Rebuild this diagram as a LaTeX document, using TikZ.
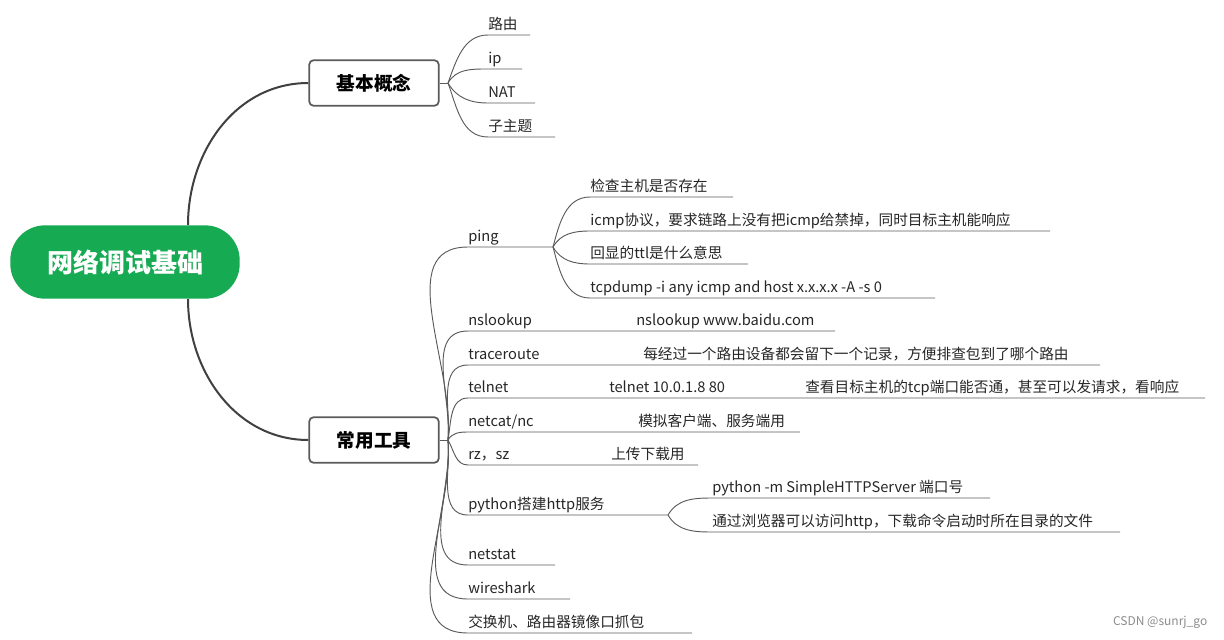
\documentclass[tikz,border=0pt]{standalone}
\usepackage{fontspec}
\setmainfont{Noto Sans CJK SC}
\usetikzlibrary{positioning}
\definecolor{rootgreen}{RGB}{22,170,82}
\definecolor{linegray}{RGB}{90,90,90}

\begin{document}
\begin{tikzpicture}[x=0.75pt, y=-0.75pt, font=\fontsize{11}{13}\selectfont,
    root/.style={rectangle, rounded corners=26pt, fill=rootgreen, text=white, font=\fontsize{19.5}{22}\selectfont\bfseries, minimum width=172pt, minimum height=55pt},
    main/.style={rectangle, draw=linegray, line width=1.3pt, rounded corners=3pt, fill=white, font=\fontsize{14}{16}\selectfont\bfseries, minimum width=97pt, minimum height=34pt},
    leaf/.style={anchor=south west, inner xsep=0pt, inner ysep=2pt, text depth=0.2em, text=black!85},
    trunk/.style={draw=black!75, line width=1.5pt},
    twig/.style={draw=linegray, line width=0.7pt},
]
\useasboundingbox (0,0) rectangle (1224,639);

\node[root] (root) at (125,262) {网络调试基础};
\node[main] (basic) at (374,83) {基本概念};
\node[main] (tools) at (374,440) {常用工具};

\draw[trunk] (188,225) to[out=90, in=180] (basic.west);
\draw[trunk] (188,299) to[out=-90, in=180] (tools.west);

% basic concepts
\coordinate (bb) at (448,83);
\draw[twig] (basic.east) -- (bb);
\node[leaf] (route) at (488,35) {路由};
\node[leaf] (ip) at (488,69) {ip};
\node[leaf] (nat) at (488,103) {NAT};
\node[leaf] (sub) at (488,137) {子主题};
\draw[twig] (bb) to[out=70, in=180] (route.south west) -- ++(42,0);
\draw[twig] (bb) to[out=60, in=180] (ip.south west) -- ++(34,0);
\draw[twig] (bb) to[out=-60, in=180] (nat.south west) -- ++(47,0);
\draw[twig] (bb) to[out=-70, in=180] (sub.south west) -- ++(67,0);

% tools
\coordinate (tb) at (448,440);
\draw[twig] (tools.east) -- (tb);
\node[leaf] (ping) at (468,247) {ping};
\node[leaf] (nslookup) at (468,331) {nslookup};
\node[leaf] (trace) at (468,365) {traceroute};
\node[leaf] (telnet) at (468,398) {telnet};
\node[leaf] (netcat) at (468,432) {netcat/nc};
\node[leaf] (rzsz) at (468,465) {rz，sz};
\node[leaf] (python) at (468,515) {python搭建http服务};
\node[leaf] (netstat) at (468,565) {netstat};
\node[leaf] (wire) at (468,599) {wireshark};
\node[leaf] (mirror) at (468,633) {交换机、路由器镜像口抓包};

\draw[twig] (tb) to[out=85, in=180] (ping.south west) -- ++(85,0) coordinate (pb);
\draw[twig] (tb) to[out=85, in=180] (nslookup.south west) -- ++(367,0);
\draw[twig] (tb) to[out=85, in=180] (trace.south west) -- ++(632,0);
\draw[twig] (tb) to[out=80, in=180] (telnet.south west) -- ++(737,0);
\draw[twig] (tb) to[out=60, in=180] (netcat.south west) -- ++(332,0);
\draw[twig] (tb) to[out=-60, in=180] (rzsz.south west) -- ++(230,0);
\draw[twig] (tb) to[out=-85, in=180] (python.south west) -- ++(200,0) coordinate (hb);
\draw[twig] (tb) to[out=-85, in=180] (netstat.south west) -- ++(87,0);
\draw[twig] (tb) to[out=-85, in=180] (wire.south west) -- ++(102,0);
\draw[twig] (tb) to[out=-85, in=180] (mirror.south west) -- ++(224,0);

% ping details
\node[leaf] (p1) at (590,197) {检查主机是否存在};
\node[leaf] (p2) at (590,231) {icmp协议，要求链路上没有把icmp给禁掉，同时目标主机能响应};
\node[leaf] (p3) at (590,264) {回显的ttl是什么意思};
\node[leaf] (p4) at (590,298) {tcpdump -i any icmp and host x.x.x.x -A -s 0};
\draw[twig] (pb) to[out=75, in=180] (p1.south west) -- ++(143,0);
\draw[twig] (pb) to[out=60, in=180] (p2.south west) -- ++(460,0);
\draw[twig] (pb) to[out=-60, in=180] (p3.south west) -- ++(158,0);
\draw[twig] (pb) to[out=-75, in=180] (p4.south west) -- ++(345,0);

% inline details
\node[leaf] (ns1) at (636,331) {nslookup www.baidu.com};
\node[leaf] (tr1) at (643,365) {每经过一个路由设备都会留下一个记录，方便排查包到了哪个路由};
\node[leaf] (te1) at (609,398) {telnet 10.0.1.8 80};
\node[leaf] (te2) at (805,398) {查看目标主机的tcp端口能否通，甚至可以发请求，看响应};
\node[leaf] (nc1) at (638,432) {模拟客户端、服务端用};
\node[leaf] (rz1) at (611,465) {上传下载用};

% python details
\node[leaf] (h1) at (712,498) {python -m SimpleHTTPServer 端口号};
\node[leaf] (h2) at (712,532) {通过浏览器可以访问http，下载命令启动时所在目录的文件};
\draw[twig] (hb) to[out=60, in=180] (h1.south west) -- ++(278,0);
\draw[twig] (hb) to[out=-60, in=180] (h2.south west) -- ++(408,0);

\node[anchor=east, text=black!45, font=\fontsize{9}{10}\selectfont] (mark) at (1212,622) {CSDN @sunrj\_go};
\end{tikzpicture}
\end{document}
